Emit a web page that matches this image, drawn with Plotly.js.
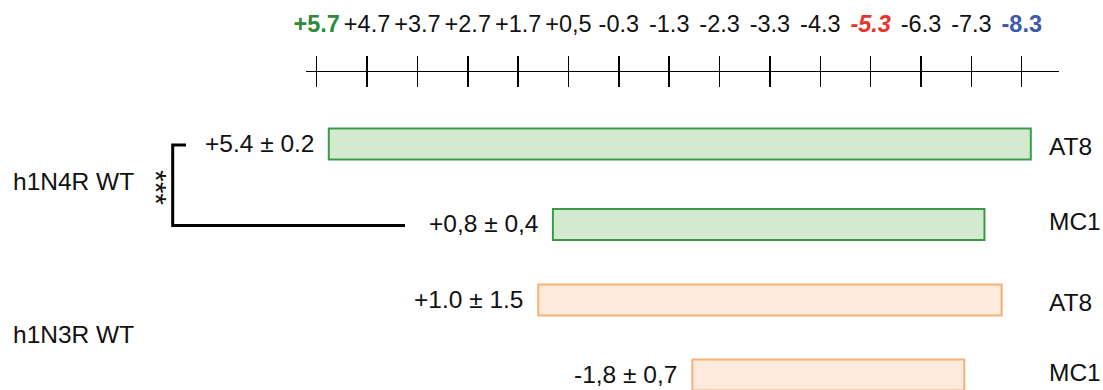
<!DOCTYPE html>
<html>
<head>
<meta charset="utf-8">
<script src="https://cdn.plot.ly/plotly-3.0.1.min.js"></script>
<style>html,body{margin:0;padding:0;background:#fff;}#chart{width:1103px;height:390px;}</style>
</head>
<body>
<div id="chart"></div>
<script>
// ---------------- data ----------------
const groups = ['h1N4R WT', 'h1N4R WT', 'h1N3R WT', 'h1N3R WT'];
const antibodies = ['AT8', 'MC1', 'AT8', 'MC1'];
const barStart = [5.46, 1.01, 1.30, -1.76];
const barEnd = [-8.48, -7.56, -7.90, -7.16];
const meanLabels = ['+5.4 ± 0.2', '+0,8 ± 0,4', '+1.0 ± 1.5', '-1,8 ± 0,7'];
const tickValues = [5.7, 4.7, 3.7, 2.7, 1.7, 0.7, -0.3, -1.3, -2.3, -3.3, -4.3, -5.3, -6.3, -7.3, -8.3];
const tickLabels = ['+5.7', '+4.7', '+3.7', '+2.7', '+1.7', '+0,5', '-0.3', '-1.3', '-2.3', '-3.3', '-4.3', '-5.3', '-6.3', '-7.3', '-8.3'];
const significance = '***';

// ---------------- layout constants ----------------
const W = 1103, H = 390;
const FONT = 'Liberation Sans, Arial, Helvetica, sans-serif';
const TXT = '#111111';
const LABEL_SIZE = 24.5;
const PX_FIRST = 316.7, PX_STEP = 50.36;           // pixel of first tick, pixels per unit
const vAt = px => tickValues[0] - (px - PX_FIRST) / PX_STEP;
const rowY = [144, 224.5, 300, 375];               // row centres (y axis in px units)
const barThick = 31;
const AXIS_Y = 70.5, AXIS_X0 = 306, AXIS_X1 = 1059;
const groupStyle = {
  'h1N4R WT': {fill: '#d4ead0', line: '#3b9a4a'},
  'h1N3R WT': {fill: '#fcebdd', line: '#f5b074'}
};
const tickStyle = {
  0: {color: '#2f8a3a', bold: true},
  11: {color: '#e8322a', bold: true, italic: true},
  14: {color: '#3d5aa8', bold: true}
};

function styledTick(label, i) {
  const s = tickStyle[i];
  if (!s) return label;
  let t = `<span style="color:${s.color}">${label}</span>`;
  if (s.italic) t = `<i>${t}</i>`;
  if (s.bold) t = `<b>${t}</b>`;
  return t;
}

// ---------------- traces ----------------
const traces = [];
const groupNames = [...new Set(groups)];
groupNames.forEach(g => {
  const idx = groups.map((v, i) => v === g ? i : -1).filter(i => i >= 0);
  traces.push({
    type: 'bar', orientation: 'h',
    y: idx.map(i => rowY[i]),
    base: idx.map(i => barStart[i]),
    x: idx.map(i => barEnd[i] - barStart[i]),
    width: barThick,
    marker: {color: groupStyle[g].fill, line: {color: groupStyle[g].line, width: 2}},
    hoverinfo: 'skip', showlegend: false, xaxis: 'x', yaxis: 'y'
  });
});
// empty traces so the scale axes get drawn
traces.push({type: 'scatter', x: [], y: [], xaxis: 'x2', yaxis: 'y', showlegend: false});
traces.push({type: 'scatter', x: [], y: [], xaxis: 'x3', yaxis: 'y', showlegend: false});

// ---------------- annotations ----------------
const annotations = [];
meanLabels.forEach((t, i) => annotations.push({
  x: barStart[i], y: rowY[i] - 1, xref: 'x', yref: 'y', text: t, showarrow: false,
  xanchor: 'right', yanchor: 'middle', xshift: -13, font: {family: FONT, size: LABEL_SIZE, color: TXT}
}));
antibodies.forEach((t, i) => annotations.push({
  x: 1047 / W, y: rowY[i] + (i % 2 === 0 ? 2 : -3), xref: 'paper', yref: 'y', text: t, showarrow: false,
  xanchor: 'left', yanchor: 'middle', font: {family: FONT, size: LABEL_SIZE, color: TXT}
}));
groupNames.forEach(g => {
  const ys = groups.map((v, i) => v === g ? rowY[i] : null).filter(v => v !== null);
  const mid = ys.reduce((a, b) => a + b, 0) / ys.length;
  annotations.push({
    x: 11 / W, y: mid - 3, xref: 'paper', yref: 'y', text: g, showarrow: false,
    xanchor: 'left', yanchor: 'middle', font: {family: FONT, size: LABEL_SIZE, color: TXT}
  });
});
annotations.push({
  x: 157 / W, y: 187, xref: 'paper', yref: 'y', text: significance, showarrow: false,
  textangle: 90, xanchor: 'center', yanchor: 'middle', font: {family: FONT, size: 30, color: TXT}
});

// ---------------- shapes ----------------
const bx = 172.7 / W;
const shapes = [{
  type: 'path', xref: 'paper', yref: 'y',
  path: `M ${186 / W},${rowY[0] + 1} L ${bx},${rowY[0] + 1} L ${bx},${rowY[1] + 1} L ${405 / W},${rowY[1] + 1}`,
  line: {color: '#000', width: 3}
}];

// ---------------- layout ----------------
const scaleAxis = {
  anchor: 'free', position: 1 - AXIS_Y / H,
  domain: [AXIS_X0 / W, AXIS_X1 / W],
  range: [vAt(AXIS_X0), vAt(AXIS_X1)],
  tickmode: 'array', tickvals: tickValues,
  ticks: 'outside', ticklen: 15, tickwidth: 1.5, tickcolor: '#000',
  showline: true, linecolor: '#000', linewidth: 1.4,
  showgrid: false, zeroline: false, fixedrange: true
};
const layout = {
  width: W, height: H,
  margin: {l: 0, r: 0, t: 0, b: 0, pad: 0},
  paper_bgcolor: '#fff', plot_bgcolor: 'rgba(0,0,0,0)',
  showlegend: false, barmode: 'overlay',
  font: {family: FONT, color: TXT},
  xaxis: {domain: [0, 1], range: [vAt(0), vAt(W)], visible: false, fixedrange: true},
  yaxis: {domain: [0, 1], range: [H, 0], visible: false, fixedrange: true},
  xaxis2: Object.assign({}, scaleAxis, {
    side: 'top', showticklabels: true,
    ticktext: tickLabels.map(styledTick),
    tickfont: {family: FONT, size: 23.5, color: TXT},
    ticklabelstandoff: 14
  }),
  xaxis3: Object.assign({}, scaleAxis, {side: 'bottom', showticklabels: false}),
  annotations: annotations,
  shapes: shapes
};

Plotly.newPlot('chart', traces, layout, {displayModeBar: false, staticPlot: true});
</script>
</body>
</html>
